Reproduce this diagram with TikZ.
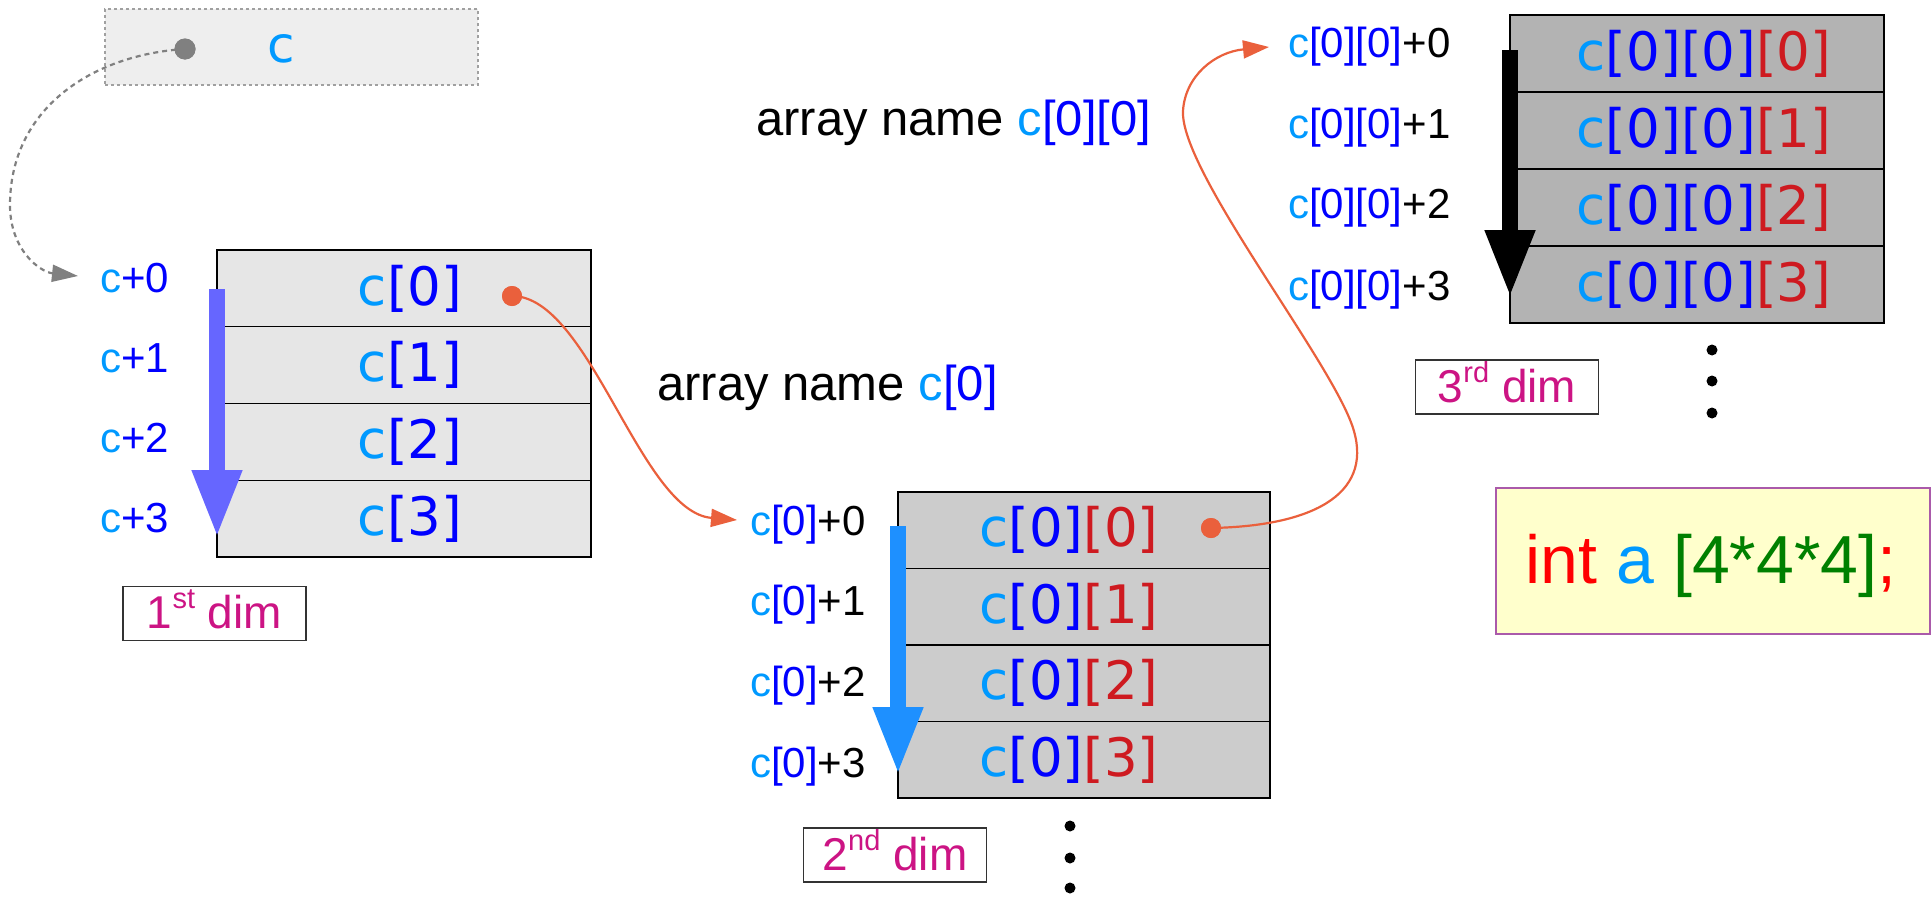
\documentclass[tikz,border=0pt]{standalone}
\usepackage{fontspec}
\setmainfont{Liberation Sans}
\newfontfamily\dvfont{DejaVu Sans}
\usetikzlibrary{arrows.meta}
\definecolor{lblue}{RGB}{0,153,255}
\definecolor{dblue}{RGB}{0,0,255}
\definecolor{dred}{RGB}{206,26,32}
\definecolor{dimcol}{RGB}{204,20,132}
\definecolor{orng}{RGB}{234,96,60}
\definecolor{arrA}{RGB}{102,102,255}
\definecolor{arrB}{RGB}{30,144,255}
\definecolor{fillA}{RGB}{230,230,230}
\definecolor{fillB}{RGB}{204,204,204}
\definecolor{fillC}{RGB}{179,179,179}
\definecolor{topfill}{RGB}{238,238,238}
\definecolor{topdraw}{RGB}{160,160,160}
\definecolor{intfill}{RGB}{255,255,204}
\definecolor{intdraw}{RGB}{170,90,170}
\definecolor{dgreen}{RGB}{0,128,0}
\definecolor{pred}{RGB}{255,0,0}
\newcommand{\lb}[1]{\textcolor{lblue}{#1}}
\newcommand{\db}[1]{\textcolor{dblue}{#1}}
\newcommand{\rd}[1]{\textcolor{dred}{#1}}
\newcommand{\supr}[1]{\raisebox{20pt}{\fontsize{29}{30}\selectfont #1}}
\tikzset{
  x=1pt, y=-1pt,
  rowbox/.style={draw=black, line width=1.4pt, minimum width=374pt, inner sep=0pt},
  rowA/.style={rowbox, fill=fillA, minimum height=76.75pt},
  rowB/.style={rowbox, fill=fillB, minimum width=372pt, minimum height=76.5pt},
  rowC/.style={rowbox, fill=fillC, minimum height=77pt},
  celltxt/.style={font=\dvfont\fontsize{53}{60}\selectfont, inner sep=0pt},
  addr/.style={font=\fontsize{42}{48}\selectfont, anchor=base west, inner sep=0pt},
  aname/.style={font=\fontsize{49}{56}\selectfont, anchor=base west, inner sep=0pt},
  dimbox/.style={draw=black!80, line width=1.2pt, minimum width=183pt, minimum height=54pt, inner sep=0pt},
  dimtxt/.style={font=\fontsize{46}{52}\selectfont, text=dimcol, anchor=base, inner sep=0pt},
  vdot/.style={circle, fill=black, minimum size=11pt, inner sep=0pt},
  odot/.style={circle, fill=orng, minimum size=20pt, inner sep=0pt},
  gdotst/.style={circle, fill=black!50, minimum size=21pt, inner sep=0pt},
  bigarrow/.style={line width=16pt, -{Triangle[length=68pt,width=46pt]}},
  olink/.style={draw=orng, line width=2.2pt, -{Triangle[length=26pt,width=18pt]}},
}
\begin{document}
\begin{tikzpicture}
\useasboundingbox (0,0) rectangle (1932,897);

% top variable c
\node[draw=topdraw, dashed, line width=1.2pt, fill=topfill, minimum width=373pt, minimum height=76pt, inner sep=0pt] (topbox) at (291.5,47) {};
\node[font=\dvfont\fontsize{50}{56}\selectfont, text=lblue, anchor=base, inner sep=0pt] (topc) at (281,62) {c};
\node[gdotst] (gdot) at (185,49) {};

% box 1
\node[rowA] (a0) at (404,288.4) {};
\node[rowA] (a1) at (404,365.1) {};
\node[rowA] (a2) at (404,441.9) {};
\node[rowA] (a3) at (404,518.6) {};
\node[celltxt] (ta0) at (410,288.4) {\lb{c}\db{[0]}};
\node[celltxt] (ta1) at (410,365.1) {\lb{c}\db{[1]}};
\node[celltxt] (ta2) at (410,441.9) {\lb{c}\db{[2]}};
\node[celltxt] (ta3) at (410,518.6) {\lb{c}\db{[3]}};
\node[addr] (la0) at (100,292) {\lb{c}\db{+0}};
\node[addr] (la1) at (100,372) {\lb{c}\db{+1}};
\node[addr] (la2) at (100,452) {\lb{c}\db{+2}};
\node[addr] (la3) at (100,532) {\lb{c}\db{+3}};
\node[dimbox] (d1) at (214.5,613.5) {};
\node[dimtxt] (d1t) at (214.5,628) {1\supr{st} dim};

% box 2
\node[rowB] (b0) at (1084,530.25) {};
\node[rowB] (b1) at (1084,606.75) {};
\node[rowB] (b2) at (1084,683.25) {};
\node[rowB] (b3) at (1084,759.75) {};
\node[celltxt] (tb0) at (1069,530.25) {\lb{c}\db{[0]}\rd{[0]}};
\node[celltxt] (tb1) at (1069,606.75) {\lb{c}\db{[0]}\rd{[1]}};
\node[celltxt] (tb2) at (1069,683.25) {\lb{c}\db{[0]}\rd{[2]}};
\node[celltxt] (tb3) at (1069,759.75) {\lb{c}\db{[0]}\rd{[3]}};
\node[addr] (lb0) at (750,535) {\lb{c}\db{[0]}+0};
\node[addr] (lb1) at (750,615) {\lb{c}\db{[0]}+1};
\node[addr] (lb2) at (750,696) {\lb{c}\db{[0]}+2};
\node[addr] (lb3) at (750,777) {\lb{c}\db{[0]}+3};
\node[dimbox] (d2) at (895,855) {};
\node[dimtxt] (d2t) at (895,870) {2\supr{nd} dim};
\node[vdot] (v1) at (1070,826) {};
\node[vdot] (v2) at (1070,858) {};
\node[vdot] (v3) at (1070,888) {};

% box 3
\node[rowC] (c0) at (1697,53.5) {};
\node[rowC] (c1) at (1697,130.5) {};
\node[rowC] (c2) at (1697,207.5) {};
\node[rowC] (c3) at (1697,284.5) {};
\node[celltxt] (tc0) at (1704,53.5) {\lb{c}\db{[0][0]}\rd{[0]}};
\node[celltxt] (tc1) at (1704,130.5) {\lb{c}\db{[0][0]}\rd{[1]}};
\node[celltxt] (tc2) at (1704,207.5) {\lb{c}\db{[0][0]}\rd{[2]}};
\node[celltxt] (tc3) at (1704,284.5) {\lb{c}\db{[0][0]}\rd{[3]}};
\node[addr] (lc0) at (1288,57) {\lb{c}\db{[0][0]}+0};
\node[addr] (lc1) at (1288,138) {\lb{c}\db{[0][0]}+1};
\node[addr] (lc2) at (1288,218) {\lb{c}\db{[0][0]}+2};
\node[addr] (lc3) at (1288,300) {\lb{c}\db{[0][0]}+3};
\node[dimbox] (d3) at (1507,387) {};
\node[dimtxt] (d3t) at (1507,402) {3\supr{rd} dim};
\node[vdot] (w1) at (1712,350) {};
\node[vdot] (w2) at (1712,381) {};
\node[vdot] (w3) at (1712,413) {};

% array names
\node[aname] (an1) at (657,400) {array name \lb{c}\db{[0]}};
\node[aname] (an2) at (756,135) {array name \lb{c}\db{[0][0]}};

% declaration
\node[draw=intdraw, line width=1.2pt, fill=intfill, minimum width=434pt, minimum height=146pt, inner sep=0pt] (decl) at (1713,561) {};
\node[font=\fontsize{68}{76}\selectfont, anchor=base, inner sep=0pt] (declt) at (1711,583) {\textcolor{pred}{int} \lb{a} \textcolor{dgreen}{[4*4*4]}\textcolor{pred}{;}};

% big direction arrows
\coordinate (a0s) at (217,289);
\coordinate (a3e) at (217,538);
\draw[bigarrow, draw=arrA] (a0s) -- (a3e);
\coordinate (b0s) at (898,526);
\coordinate (b3e) at (898,775);
\draw[bigarrow, draw=arrB] (b0s) -- (b3e);
\coordinate (c0s) at (1510,50);
\coordinate (c3e) at (1510,298);
\draw[bigarrow, draw=black] (c0s) -- (c3e);

% pointer links
\coordinate (t1) at (78,276);
\draw[draw=black!50, line width=2.2pt, dash pattern=on 5pt off 4pt, -{Triangle[length=26pt,width=17pt]}]
  (gdot.center) .. controls (90,55) and (10,110) .. (10,205) .. controls (10,250) and (40,272) .. (t1);
\node[gdotst] at (gdot) {};

\coordinate (t2) at (737,520);
\node[odot] (od1) at (512,296) {};
\draw[olink] (od1.center) .. controls (590,296) and (640,512) .. (t2);
\node[odot] at (od1) {};

\coordinate (t3) at (1269,47);
\node[odot] (od2) at (1211,528) {};
\draw[olink] (od2.center) .. controls (1320,526) and (1375,490) .. (1352,425)
  .. controls (1327,355) and (1180,170) .. (1183,111)
  .. controls (1185,76) and (1215,52) .. (t3);
\node[odot] at (od2) {};
\end{tikzpicture}
\end{document}
